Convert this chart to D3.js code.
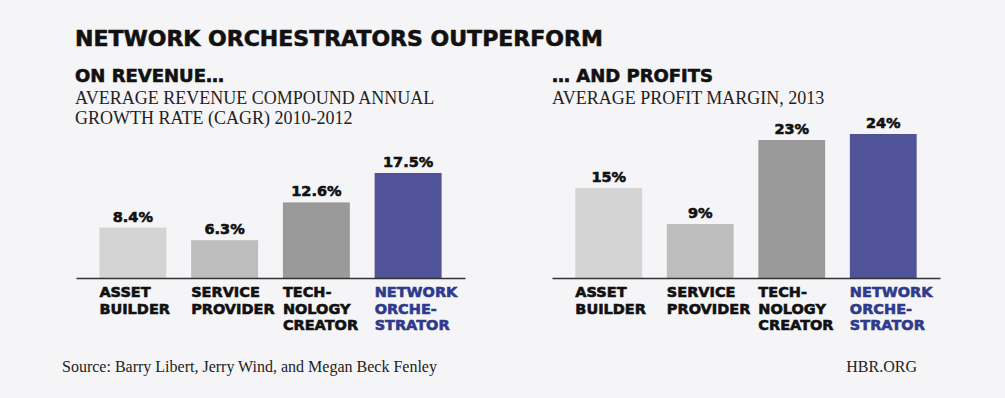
<!DOCTYPE html>
<html lang="en">
<head>
  <meta charset="UTF-8">
  <title>Network Orchestrators Outperform</title>
  <script src="https://d3js.org/d3.v7.min.js"></script>
  <style>
    html, body {
      margin: 0;
      padding: 0;
      background: #f5f5f7;
    }
    .heavy {
      font-family: "DejaVu Sans", sans-serif;
      font-weight: bold;
      fill: #111;
      stroke: #111;
      stroke-width: 0.6px;
    }
    .serif {
      font-family: "Liberation Serif", serif;
      fill: #222;
    }
  </style>
</head>
<body>
  <svg width="1005" height="398"></svg>

  <script>
    // data
    const categories = ["ASSET BUILDER", "SERVICE PROVIDER", "TECHNOLOGY CREATOR", "NETWORK ORCHESTRATOR"];
    const categoryLines = [
      ["ASSET", "BUILDER"],
      ["SERVICE", "PROVIDER"],
      ["TECH-", "NOLOGY", "CREATOR"],
      ["NETWORK", "ORCHE-", "STRATOR"]
    ];
    const revenueCagr = [8.4, 6.3, 12.6, 17.5];
    const revenueLabels = ["8.4%", "6.3%", "12.6%", "17.5%"];
    const profitMargin = [15, 9, 23, 24];
    const profitLabels = ["15%", "9%", "23%", "24%"];

    const barColors = ["#d4d4d4", "#bdbdbd", "#9a9a9a", "#505397"];
    const labelColors = ["#111", "#111", "#111", "#2f3a8c"];

    const svg = d3.select("svg");

    svg.append("rect")
       .attr("width", 1005).attr("height", 398)
       .attr("fill", "#f5f5f7");

    // main title
    svg.append("text")
       .attr("class", "heavy")
       .attr("x", 75).attr("y", 46)
       .style("font-size", "22px")
       .text("NETWORK ORCHESTRATORS OUTPERFORM");

    const yScale = d3.scaleLinear().domain([0, 25]).range([278, 128]);

    function panel(x0, x1, textX, heading, subLines, values, labels) {
      const g = svg.append("g");

      g.append("text")
       .attr("class", "heavy")
       .attr("x", textX).attr("y", 82)
       .style("font-size", "18px")
       .text(heading);

      g.selectAll(".sub")
       .data(subLines)
       .join("text")
       .attr("class", "serif sub")
       .attr("x", textX)
       .attr("y", (d, i) => 104 + i * 19.5)
       .style("font-size", "18px")
       .text(d => d);

      const xScale = d3.scaleBand()
                       .domain(categories)
                       .range([x0, x1])
                       .paddingInner(0.27)
                       .paddingOuter(0.255);

      g.selectAll(".bar")
       .data(values)
       .join("rect")
       .attr("class", "bar")
       .attr("x", (d, i) => xScale(categories[i]))
       .attr("y", d => yScale(d))
       .attr("width", xScale.bandwidth())
       .attr("height", d => yScale(0) - yScale(d))
       .attr("fill", (d, i) => barColors[i]);

      g.selectAll(".val")
       .data(values)
       .join("text")
       .attr("class", "heavy val")
       .attr("x", (d, i) => xScale(categories[i]) + xScale.bandwidth() / 2)
       .attr("y", d => yScale(d) - 6)
       .attr("text-anchor", "middle")
       .style("font-size", "14.5px")
       .text((d, i) => labels[i]);

      // baseline
      const axis = g.append("g")
                    .attr("transform", `translate(0, ${yScale(0)})`)
                    .call(d3.axisBottom(xScale).tickSize(0).tickFormat(""));
      axis.select(".domain").attr("stroke", "#333").attr("stroke-width", 1.3);

      categories.forEach((c, i) => {
        const t = g.append("text")
                   .attr("class", "heavy")
                   .attr("x", xScale(c))
                   .attr("y", 297)
                   .style("font-size", "14.5px")
                   .style("fill", labelColors[i])
                   .style("stroke", labelColors[i]);
        categoryLines[i].forEach((line, j) => {
          t.append("tspan")
           .attr("x", xScale(c))
           .attr("dy", j === 0 ? 0 : 16.7)
           .text(line);
        });
      });
    }

    panel(76, 465, 75, "ON REVENUE…",
          ["AVERAGE REVENUE COMPOUND ANNUAL", "GROWTH RATE (CAGR) 2010-2012"],
          revenueCagr, revenueLabels);

    panel(552, 940, 552, "… AND PROFITS",
          ["AVERAGE PROFIT MARGIN, 2013"],
          profitMargin, profitLabels);

    // footer
    svg.append("text")
       .attr("class", "serif")
       .attr("x", 62).attr("y", 372)
       .style("font-size", "16px")
       .text("Source: Barry Libert, Jerry Wind, and Megan Beck Fenley");

    svg.append("text")
       .attr("class", "serif")
       .attr("x", 917).attr("y", 372)
       .attr("text-anchor", "end")
       .style("font-size", "16px")
       .text("HBR.ORG");
  </script>
</body>
</html>
